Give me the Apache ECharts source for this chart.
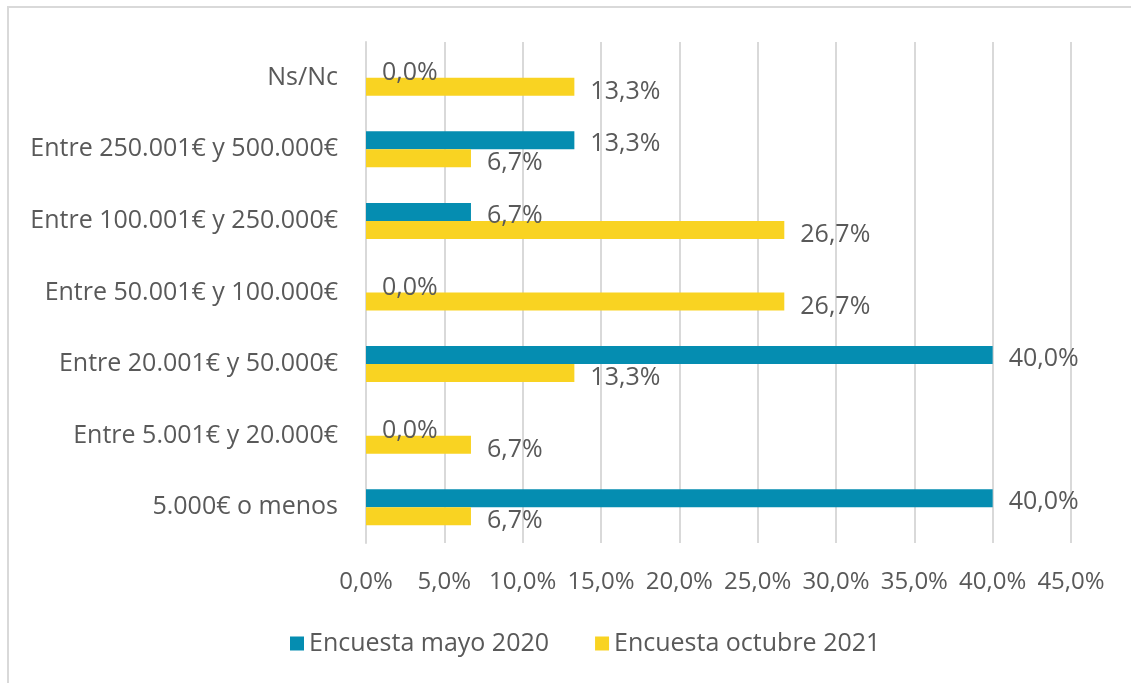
<!DOCTYPE html>
<html>
<head>
<meta charset="utf-8">
<script src="https://cdn.jsdelivr.net/npm/echarts@6/dist/echarts.min.js"></script>
<style>
  html, body { margin: 0; padding: 0; background: #fff; }
  #chart { width: 1131px; height: 683px; }
</style>
</head>
<body>
<div id="chart"></div>
<script>
// categories listed top to bottom (yAxis is inverted)
var categories = [
    'Ns/Nc',
    'Entre 250.001€ y 500.000€',
    'Entre 100.001€ y 250.000€',
    'Entre 50.001€ y 100.000€',
    'Entre 20.001€ y 50.000€',
    'Entre 5.001€ y 20.000€',
    '5.000€ o menos'
];
var mayo2020 = [0.0, 13.3, 6.7, 0.0, 40.0, 0.0, 40.0];
var octubre2021 = [13.3, 6.7, 26.7, 26.7, 13.3, 6.7, 6.7];
var seriesNames = ['Encuesta mayo 2020', 'Encuesta octubre 2021'];

var fontName = '"Open Sans", sans-serif';
var textColor = '#595959';

function pct(v) {
    return v.toFixed(1).replace('.', ',') + '%';
}

function barLabel(offsetY) {
    return {
        show: true,
        position: 'right',
        distance: 16,
        offset: [0, offsetY],
        color: textColor,
        fontFamily: fontName,
        fontSize: 25,
        formatter: function (p) { return pct(p.value); }
    };
}

var chart = echarts.init(document.getElementById('chart'));
chart.setOption({
    animation: false,
    backgroundColor: '#fff',
    graphic: [{
        type: 'rect',
        shape: { x: 8, y: 7, width: 1200, height: 760 },
        style: { fill: 'none', stroke: '#d9d9d9', lineWidth: 2 },
        silent: true
    }],
    grid: { left: 366, right: 60, top: 42, bottom: 140 },
    legend: {
        bottom: 22,
        left: 285,
        itemWidth: 14,
        itemHeight: 14,
        itemGap: 46,
        icon: 'rect',
        textStyle: { color: textColor, fontFamily: fontName, fontSize: 25 },
        data: seriesNames
    },
    xAxis: {
        type: 'value',
        min: 0,
        max: 45,
        interval: 5,
        axisLine: { show: false },
        axisTick: { show: false },
        splitLine: { lineStyle: { color: '#d9d9d9', width: 2 } },
        axisLabel: {
            margin: 27,
            color: textColor,
            fontFamily: fontName,
            fontSize: 24,
            formatter: function (v) { return pct(v); }
        }
    },
    yAxis: {
        type: 'category',
        inverse: true,
        data: categories,
        axisLine: { show: true, lineStyle: { color: '#d9d9d9', width: 2 } },
        axisTick: { show: false },
        axisLabel: {
            margin: 28,
            color: textColor,
            fontFamily: fontName,
            fontSize: 25
        }
    },
    series: [{
        name: seriesNames[0],
        type: 'bar',
        data: mayo2020,
        barWidth: 18,
        barGap: '0%',
        itemStyle: { color: '#058db1' },
        label: barLabel(4)
    }, {
        name: seriesNames[1],
        type: 'bar',
        data: octubre2021,
        barWidth: 18,
        itemStyle: { color: '#f9d322' },
        label: barLabel(5)
    }]
});
</script>
</body>
</html>
